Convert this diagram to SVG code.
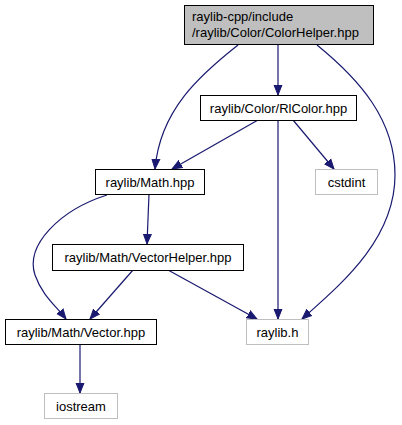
<svg xmlns="http://www.w3.org/2000/svg" width="402" height="425" viewBox="0 0 402 425">
<style>
.n rect{fill:#ffffff;stroke:#000000;stroke-width:1}
.n.ext rect{stroke:#bfbfbf}
.n.root rect{fill:#bfbfbf}
text{font-family:"Liberation Sans",Arial,Helvetica,sans-serif;font-size:13px;fill:#000000}
.c{text-anchor:middle}
#edges path{fill:none;stroke:#191970;stroke-width:1.2;marker-end:url(#ah)}
</style>
<defs>
<marker id="ah" markerUnits="userSpaceOnUse" markerWidth="12" markerHeight="10" refX="10" refY="5" orient="auto">
<path d="M0,1 L10,5 L0,9 z" fill="#191970" stroke="#191970" stroke-width="1"/>
</marker>
</defs>
<rect width="402" height="425" fill="#ffffff"/>
<g id="edges">
<path d="M238,45 C200,75 160,110 155,169"/>
<path d="M278,45 L278,95"/>
<path d="M317,45 C360,80 395,120 395,175 C395,240 340,285 302,319"/>
<path d="M258,120 L172,169"/>
<path d="M293,120 L334,169"/>
<path d="M278,120 L278,319"/>
<path d="M149,194 L147,244"/>
<path d="M107,195 C60,210 25,245 35,275 C42,295 55,305 66,319"/>
<path d="M133,270 L90,319"/>
<path d="M168,270 L257,319"/>
<path d="M80,344 L80,393"/>
</g>
<g id="root" class="n root">
<rect x="184.5" y="5.5" width="189" height="39"/>
<text x="192" y="21">raylib-cpp/include</text>
<text x="192" y="37">/raylib/Color/ColorHelper.hpp</text>
</g>
<g id="rlcolor" class="n">
<rect x="200.5" y="95.5" width="156" height="25"/>
<text class="c" x="278.5" y="112.5">raylib/Color/RlColor.hpp</text>
</g>
<g id="math" class="n">
<rect x="95.5" y="169.5" width="109" height="25"/>
<text class="c" x="150" y="186.5">raylib/Math.hpp</text>
</g>
<g id="cstdint" class="n ext">
<rect x="315.5" y="169.5" width="62" height="25"/>
<text class="c" x="346.5" y="186.5">cstdint</text>
</g>
<g id="vectorhelper" class="n">
<rect x="52.5" y="244.5" width="191" height="26"/>
<text class="c" x="148" y="262">raylib/Math/VectorHelper.hpp</text>
</g>
<g id="vector" class="n">
<rect x="5.5" y="319.5" width="151" height="25"/>
<text class="c" x="81" y="336.5">raylib/Math/Vector.hpp</text>
</g>
<g id="raylibh" class="n ext">
<rect x="246.5" y="319.5" width="62" height="25"/>
<text class="c" x="277.5" y="336.5">raylib.h</text>
</g>
<g id="iostream" class="n ext">
<rect x="44.5" y="393.5" width="73" height="25"/>
<text class="c" x="81" y="410.5">iostream</text>
</g>
</svg>
